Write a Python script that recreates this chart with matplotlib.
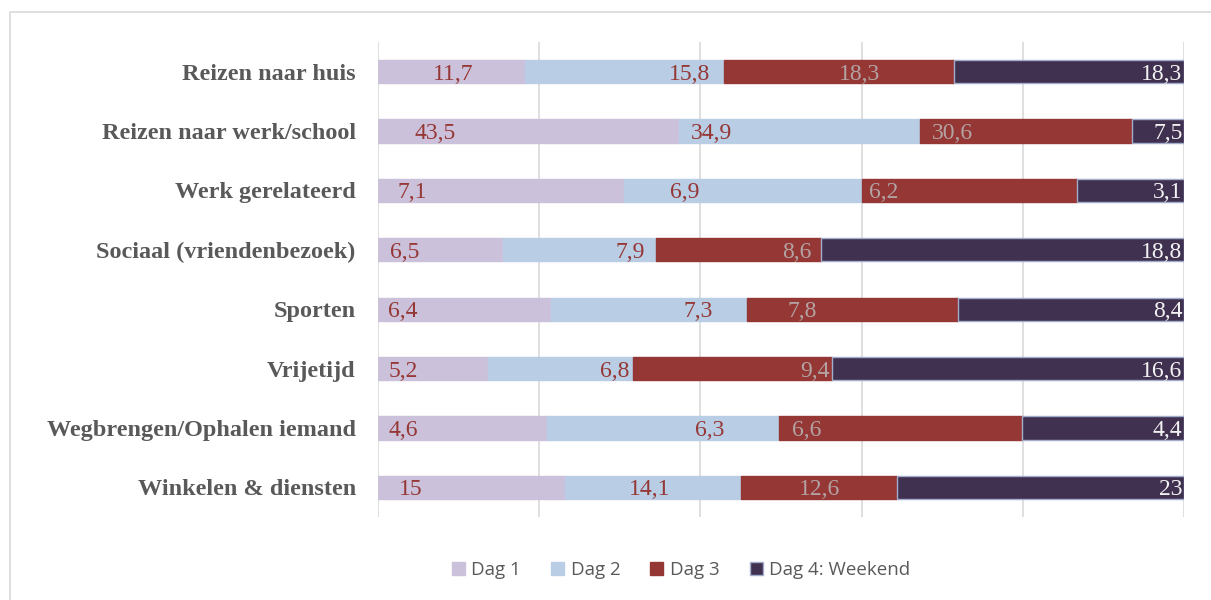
import matplotlib.pyplot as plt
from matplotlib.patches import Rectangle
import numpy as np

# data
categories = ['Reizen naar huis', 'Reizen naar werk/school', 'Werk gerelateerd',
              'Sociaal (vriendenbezoek)', 'Sporten', 'Vrijetijd',
              'Wegbrengen/Ophalen iemand', 'Winkelen & diensten']
series = ['Dag 1', 'Dag 2', 'Dag 3', 'Dag 4: Weekend']
dag1 = [11.7, 43.5, 7.1, 6.5, 6.4, 5.2, 4.6, 15]
dag2 = [15.8, 34.9, 6.9, 7.9, 7.3, 6.8, 6.3, 14.1]
dag3 = [18.3, 30.6, 6.2, 8.6, 7.8, 9.4, 6.6, 12.6]
dag4 = [18.3, 7.5, 3.1, 18.8, 8.4, 16.6, 4.4, 23]

# style
colors = ['#CCC1DA', '#B9CDE5', '#953735', '#403151']
edges = ['#CCC1DA', '#B9CDE5', '#953735', '#A4ACCB']
label_colors = ['#953735', '#953735', '#B3A3A3', '#F2F2F2']
# label centres (percent of bar) as placed in the original, Dag 4 is right aligned
label_pos = [
    [9.3, 38.7, 59.8],
    [7.1, 41.4, 71.3],
    [4.2, 38.1, 62.8],
    [3.3, 31.3, 52.0],
    [3.1, 39.7, 52.6],
    [3.1, 29.4, 54.2],
    [3.1, 41.2, 53.2],
    [4.0, 33.7, 54.8],
]

vals = np.array([dag1, dag2, dag3, dag4], dtype=float)
pct = vals / vals.sum(axis=0) * 100

fig = plt.figure(figsize=(12.11, 6.0), dpi=100)
ax = fig.add_axes([378 / 1211, 1 - 517 / 600, (1184 - 378) / 1211, (517 - 42) / 600])

y = np.arange(len(categories))
left = np.zeros(len(categories))
for i in range(4):
    ax.barh(y, pct[i], left=left, height=0.39, color=colors[i], edgecolor=edges[i],
            linewidth=1.0, label=series[i], zorder=3)
    for r in range(len(categories)):
        txt = f'{vals[i, r]:g}'.replace('.', ',')
        if i < 3:
            ax.text(label_pos[r][i], y[r], txt, ha='center', va='center_baseline',
                    color=label_colors[i], fontsize=17, family='Liberation Serif', zorder=4)
        else:
            ax.text(left[r] + pct[i, r] - 0.2, y[r], txt, ha='right', va='center_baseline',
                    color=label_colors[i], fontsize=17, family='Liberation Serif', zorder=4)
    left += pct[i]

ax.set_xlim(0, 100)
ax.set_ylim(len(categories) - 0.5, -0.5)
ax.set_xticks([0, 20, 40, 60, 80, 100])
ax.set_xticklabels([])
ax.tick_params(length=0)
ax.grid(axis='x', color='#D9D9D9', linewidth=1.2, zorder=0)
for s in ax.spines.values():
    s.set_visible(False)
ax.set_yticks(y)
ax.set_yticklabels(categories, fontsize=17.5, fontweight='bold', color='#595959',
                   family='Liberation Serif')
ax.tick_params(axis='y', pad=16)

leg = fig.legend(loc='center', bbox_to_anchor=(681 / 1211, 1 - 570 / 600), ncol=4,
                 frameon=False, prop={'family': 'Open Sans', 'size': 13.5},
                 handlelength=0.7, handleheight=0.7, handletextpad=0.35, columnspacing=1.6)
for t in leg.get_texts():
    t.set_color('#595959')

# chart frame
fig.patches.append(Rectangle((10 / 1211, -0.1), 1.2, 1 - 12 / 600 + 0.1,
                             transform=fig.transFigure, fill=False,
                             edgecolor='#D9D9D9', linewidth=1.2))

fig.savefig('out.png', dpi=100)
